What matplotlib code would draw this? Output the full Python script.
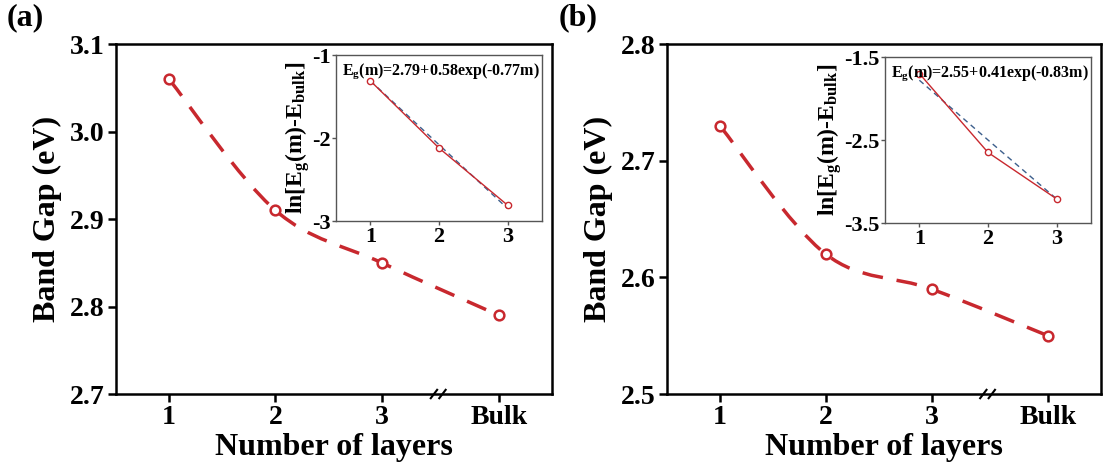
import matplotlib
matplotlib.use("Agg")
import matplotlib.pyplot as plt
from matplotlib.path import Path
from matplotlib.patches import PathPatch
import numpy as np

plt.rcParams['font.family'] = ['Liberation Serif', 'DejaVu Serif']
plt.rcParams['font.weight'] = 'bold'
plt.rcParams['mathtext.fontset'] = 'custom'
plt.rcParams['mathtext.rm'] = 'Liberation Serif:bold'
plt.rcParams['mathtext.bf'] = 'Liberation Serif:bold'
plt.rcParams['mathtext.it'] = 'Liberation Serif:bold'

# data
layer_pos = [1, 2, 3, 4.1]
layer_labels = ['1', '2', '3', 'Bulk']
gap_a = [3.06, 2.91, 2.85, 2.79]
gap_b = [2.73, 2.62, 2.59, 2.55]

m_inset = [1, 2, 3]
ln_a = [-1.31, -2.12, -2.81]
fit_a = [-1.31, -2.08, -2.85]
ln_b = [-1.70, -2.65, -3.21]
fit_b = [-1.78, -2.50, -3.21]
fit_text_a = r'E$_{\mathrm{g}}$(m)=2.79+0.58exp(-0.77m)'
fit_text_b = r'E$_{\mathrm{g}}$(m)=2.55+0.41exp(-0.83m)'

RED = '#c8282e'
BLUE = '#3d5f8c'


def smooth_path(x, y):
    # catmull-rom through the points, drawn as bezier segments
    pts = np.column_stack([x, y]).astype(float)
    ext = np.vstack([pts[0], pts, pts[-1]])
    verts = [pts[0]]
    codes = [Path.MOVETO]
    for i in range(len(pts) - 1):
        p0, p1, p2, p3 = ext[i], ext[i + 1], ext[i + 2], ext[i + 3]
        c1 = p1 + (p2 - p0) / 6.0
        c2 = p2 - (p3 - p1) / 6.0
        verts += [c1, c2, p2]
        codes += [Path.CURVE4] * 3
    return Path(verts, codes)


def main_panel(rect, gaps, ylim, yticks, letter, ins_rect, ln_vals, fit_vals,
               ins_ylim, ins_yticks, fit_text):
    ax = fig.add_axes(rect)
    patch = PathPatch(smooth_path(layer_pos, gaps), fill=False, edgecolor=RED,
                      lw=2.5, linestyle=(0, (6, 4)), zorder=2)
    ax.add_patch(patch)
    ax.plot(layer_pos, gaps, 'o', ms=7, mfc='white', mec=RED, mew=1.8, zorder=3)
    ax.set_xlim(0.5, 4.6)
    ax.set_ylim(*ylim)
    ax.set_xticks(layer_pos)
    ax.set_xticklabels(layer_labels)
    ax.set_yticks(yticks)
    ax.set_yticklabels(['%.1f' % v for v in yticks])
    for s in ax.spines.values():
        s.set_linewidth(1.8)
    ax.tick_params(direction='out', length=6, width=1.8, labelsize=20, pad=2)
    ax.set_ylabel('Band Gap (eV)', fontsize=23, fontweight='bold', labelpad=6)
    ax.set_xlabel('Number of layers', fontsize=23, fontweight='bold', labelpad=2)
    # axis break marks
    for dx in (-0.04, 0.04):
        ax.plot([3.53 + dx - 0.03, 3.53 + dx + 0.03], [-0.012, 0.012],
                transform=ax.get_xaxis_transform(), color='black', lw=1.5,
                clip_on=False, zorder=5)
    ax.text(-0.25, 1.075, letter, transform=ax.transAxes, fontsize=23,
            fontweight='bold', va='center', ha='left')

    ins = fig.add_axes(ins_rect)
    ins.plot(m_inset, fit_vals, color=BLUE, lw=1.0, ls=(0, (4, 3)), zorder=2)
    ins.plot(m_inset, ln_vals, color=RED, lw=1.0, marker='o', ms=4.5,
             mfc='white', mec=RED, mew=1.0, zorder=3)
    ins.set_xlim(0.5, 3.5)
    ins.set_ylim(*ins_ylim)
    ins.set_xticks(m_inset)
    ins.set_yticks(ins_yticks)
    ins.set_yticklabels(['%g' % v for v in ins_yticks])
    for s in ins.spines.values():
        s.set_linewidth(1.0)
        s.set_color('#555555')
    ins.tick_params(direction='out', length=3, width=1.0, color='#555555',
                    labelsize=16, pad=1)
    ins.set_ylabel(r'ln[E$_{\mathrm{g}}$(m)-E$_{\mathrm{bulk}}$]', fontsize=17,
                   fontweight='bold', labelpad=0)
    ins.text(0.03, 0.96, fit_text, transform=ins.transAxes, fontsize=11.5,
             fontweight='bold', va='top', ha='left')
    return ax


fig = plt.figure(figsize=(11.03, 4.75), dpi=100)

main_panel([0.105, 0.1705, 0.3955, 0.7365], gap_a, (2.7, 3.1),
           [2.7, 2.8, 2.9, 3.0, 3.1], '(a)',
           [0.3046, 0.5347, 0.1868, 0.3493], ln_a, fit_a, (-3, -1),
           [-3, -2, -1], fit_text_a)
main_panel([0.6047, 0.1705, 0.3933, 0.7365], gap_b, (2.5, 2.8),
           [2.5, 2.6, 2.7, 2.8], '(b)',
           [0.8024, 0.5305, 0.1867, 0.3495], ln_b, fit_b, (-3.5, -1.5),
           [-3.5, -2.5, -1.5], fit_text_b)

fig.savefig('out.png', dpi=100)
